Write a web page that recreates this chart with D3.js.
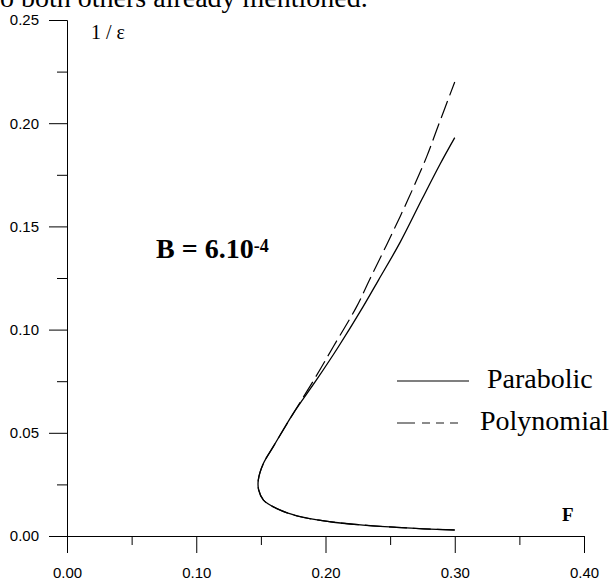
<!DOCTYPE html>
<meta charset="utf-8">
<script src="https://d3js.org/d3.v7.min.js"></script>
<style>
  body { margin: 0; background: #fff; }
  svg { display: block; }
</style>
<svg width="616" height="582"></svg>

<script>
// values: F on x, 1/eps on y
var fParabolic   = [0.300, 0.276, 0.255, 0.229, 0.2035, 0.178, 0.162, 0.152, 0.1483, 0.148, 0.152, 0.1596, 0.1751, 0.193, 0.210, 0.229, 0.241, 0.2575, 0.2745, 0.2885, 0.300];
var epsParabolic = [0.0029, 0.0035, 0.0042, 0.0053, 0.0069, 0.0097, 0.0134, 0.0174, 0.0223, 0.0271, 0.0352, 0.0433, 0.0594, 0.0756, 0.0917, 0.111, 0.124, 0.142, 0.163, 0.180, 0.193];

var fPolynomial   = [0.300, 0.276, 0.255, 0.229, 0.2035, 0.178, 0.162, 0.152, 0.1483, 0.148, 0.152, 0.1596, 0.1751, 0.191, 0.206, 0.224, 0.234, 0.248, 0.2638, 0.2783, 0.286, 0.300];
var epsPolynomial = [0.0029, 0.0035, 0.0042, 0.0053, 0.0069, 0.0097, 0.0134, 0.0174, 0.0223, 0.0271, 0.0352, 0.0433, 0.0594, 0.0756, 0.0917, 0.111, 0.124, 0.142, 0.163, 0.1838, 0.1967, 0.220];

var xTicks = [0, 0.1, 0.2, 0.3, 0.4];
var xMinor = [0.05, 0.15, 0.25, 0.35];
var yTicks = [0, 0.05, 0.1, 0.15, 0.2, 0.25];
var yMinor = [0.025, 0.075, 0.125, 0.175, 0.225];

var seriesNames = ["Parabolic", "Polynomial"];

var svg = d3.select("svg");

var x = d3.scaleLinear().domain([0, 0.4]).range([67, 584]);
var y = d3.scaleLinear().domain([0, 0.25]).range([536, 20]);

// clipped sentence from the page above the figure
svg.append("text")
    .attr("x", 0).attr("y", 7)
    .style("font-family", "'Liberation Serif', 'Times New Roman', serif")
    .style("font-size", "28px")
    .text("o both others already mentioned.");

function styleAxis(g) {
  g.selectAll("path, line").attr("stroke", "#000").attr("stroke-width", 1);
  g.selectAll("text")
    .style("font-family", "'Liberation Sans', Arial, sans-serif")
    .style("font-size", "15px")
    .attr("fill", "#000");
}

// x axis
svg.append("g")
    .attr("transform", "translate(0," + y(0) + ")")
    .call(d3.axisBottom(x).tickValues(xMinor).tickSize(9).tickSizeOuter(0).tickFormat(""))
    .call(styleAxis);
svg.append("g")
    .attr("transform", "translate(0," + y(0) + ")")
    .call(d3.axisBottom(x).tickValues(xTicks).tickSize(17).tickSizeOuter(0).tickPadding(14).tickFormat(d3.format(".2f")))
    .call(styleAxis);

// y axis
svg.append("g")
    .attr("transform", "translate(" + x(0) + ",0)")
    .call(d3.axisLeft(y).tickValues(yMinor).tickSize(10).tickSizeOuter(0).tickFormat(""))
    .call(styleAxis);
svg.append("g")
    .attr("transform", "translate(" + x(0) + ",0)")
    .call(d3.axisLeft(y).tickValues(yTicks).tickSize(18).tickSizeOuter(0).tickPadding(10).tickFormat(d3.format(".2f")))
    .call(styleAxis);

// axis titles
svg.append("text")
    .attr("x", 91).attr("y", 39)
    .style("font-family", "'Liberation Serif', 'Times New Roman', serif")
    .style("font-size", "20px")
    .text("1 / ε");

svg.append("text")
    .attr("x", 562).attr("y", 521)
    .style("font-family", "'Liberation Serif', 'Times New Roman', serif")
    .style("font-size", "19px")
    .style("font-weight", "bold")
    .text("F");

// annotation
var ann = svg.append("text")
    .attr("x", 156).attr("y", 258)
    .style("font-family", "'Liberation Serif', 'Times New Roman', serif")
    .style("font-weight", "bold")
    .style("font-size", "28px");
ann.append("tspan").text("B = 6.10");
ann.append("tspan").attr("dy", -6).style("font-size", "18px").text("-4");

// curves
var line = d3.line()
    .x(function(d) { return x(d[0]); })
    .y(function(d) { return y(d[1]); })
    .curve(d3.curveCatmullRom.alpha(0.5));

var parabolic = d3.zip(fParabolic, epsParabolic);
var polynomial = d3.zip(fPolynomial, epsPolynomial);

svg.append("path")
    .datum(parabolic)
    .attr("d", line)
    .attr("fill", "none")
    .attr("stroke", "#000")
    .attr("stroke-width", 1.3);

svg.append("path")
    .datum(polynomial)
    .attr("d", line)
    .attr("fill", "none")
    .attr("stroke", "#000")
    .attr("stroke-width", 1.2)
    .attr("stroke-dasharray", "18,6");

// legend
var legend = svg.append("g");
legend.append("line")
    .attr("x1", 397).attr("x2", 469).attr("y1", 381).attr("y2", 381)
    .attr("stroke", "#000").attr("stroke-width", 1.2);
legend.append("line")
    .attr("x1", 397).attr("x2", 469).attr("y1", 423).attr("y2", 423)
    .attr("stroke", "#666").attr("stroke-width", 1.5)
    .attr("stroke-dasharray", "18,7,8,6,8,6,8");
legend.selectAll("text")
    .data(seriesNames)
    .enter().append("text")
    .attr("x", function(d, i) { return i === 0 ? 487 : 480; })
    .attr("y", function(d, i) { return i === 0 ? 388 : 430; })
    .style("font-family", "'Liberation Serif', 'Times New Roman', serif")
    .style("font-size", "28px")
    .text(function(d) { return d; });
</script>
